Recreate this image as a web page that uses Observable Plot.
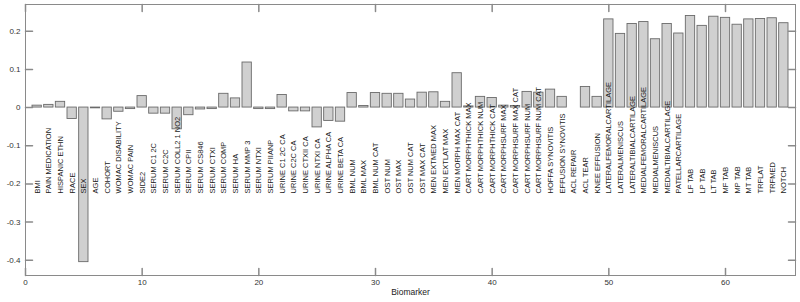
<!DOCTYPE html>
<html><head><meta charset="utf-8">
<script src="https://cdn.jsdelivr.net/npm/d3@7"></script>
<script src="https://cdn.jsdelivr.net/npm/@observablehq/plot@0.6"></script>
<style>body{margin:0;background:#fff}</style>
</head><body><div id="chart"></div>
<script>
const biomarkers = [
  "BMI","PAIN MEDICATION","HISPANIC ETHN","RACE","SEX","AGE","COHORT","WOMAC DISABILITY","WOMAC PAIN","SIDE2",
  "SERUM C1 2C","SERUM C2C","SERUM COLL2 1 NO2","SERUM CPII","SERUM CS846","SERUM CTXI","SERUM COMP","SERUM HA","SERUM MMP 3","SERUM NTXI",
  "SERUM PIIANP","URINE C1 2C CA","URINE C2C CA","URINE CTXII CA","URINE NTXI CA","URINE ALPHA CA","URINE BETA CA","BML NUM","BML MAX","BML NUM CAT",
  "OST NUM","OST MAX","OST NUM CAT","OST MAX CAT","MEN EXTMED MAX","MEN EXTLAT MAX","MEN MORPH MAX CAT","CART MORPHTHICK MAX","CART MORPHTHICK NUM","CART MORPHTHICK CAT",
  "CART MORPHSURF MAX","CART MORPHSURF MAX CAT","CART MORPHSURF NUM","CART MORPHSURF NUM CAT","HOFFA SYNOVITIS","EFFUSION SYNOVITIS","ACL REPAIR","ACL TEAR","KNEE EFFUSION","LATERALFEMORALCARTILAGE",
  "LATERALMENISCUS","LATERALTIBIALCARTILAGE","MEDIALFEMORALCARTILAGE","MEDIALMENISCUS","MEDIALTIBIALCARTILAGE","PATELLARCARTILAGE","LF TAB","LP TAB","LT TAB","MF TAB",
  "MP TAB","MT TAB","TRFLAT","TRFMED","NOTCH"
];
const values = [
  0.005, 0.007, 0.015, -0.030, -0.405, -0.002, -0.031, -0.011, -0.004, 0.030,
  -0.016, -0.016, -0.057, -0.020, -0.005, -0.004, 0.036, 0.024, 0.118, -0.004,
  -0.004, 0.033, -0.010, -0.010, -0.052, -0.035, -0.037, 0.038, 0.004, 0.038,
  0.036, 0.036, 0.021, 0.039, 0.040, 0.015, 0.090, 0.003, 0.028, 0.025,
  0.005, 0.004, 0.041, 0.039, 0.047, 0.028, 0, 0.054, 0.028, 0.231,
  0.193, 0.219, 0.224, 0.179, 0.219, 0.194, 0.240, 0.214, 0.238, 0.235,
  0.217, 0.231, 0.232, 0.234, 0.221
];
const xTicks = [0, 10, 20, 30, 40, 50, 60];
const xTickLabels = ["0", "10", "20", "30", "40", "50", "60"];
const yTicks = [-0.4, -0.3, -0.2, -0.1, 0, 0.1, 0.2];
const yTickLabels = ["-0.4", "-0.3", "-0.2", "-0.1", "0", "0.1", "0.2"];
const xLabel = "Biomarker";

const data = biomarkers.map((name, i) => ({index: i + 1, name, value: values[i]}));
const axisColor = "#8a8a8a";
const tickShape = {draw(ctx, l) { ctx.moveTo(0, 0); ctx.lineTo(0, -l); }};
const tickLen = 7;

const chart = Plot.plot({
  width: 800, height: 302,
  marginLeft: 25, marginRight: 5, marginTop: 4, marginBottom: 27,
  style: {fontFamily: "'Liberation Sans', Arial, sans-serif", fontSize: "8px", background: "#fff", color: "#222"},
  x: {domain: [0, 66]},
  y: {domain: [-0.44, 0.27]},
  marks: [
    Plot.rect(data, {x1: d => d.index - 0.4, x2: d => d.index + 0.4, y1: 0, y2: "value",
      fill: "#d0d0d0", stroke: "#6a6a6a", strokeWidth: 0.9, filter: d => d.value !== 0}),
    Plot.text(data, {x: "index", y: -0.225, text: "name", rotate: -90, textAnchor: "start",
      lineAnchor: "middle", fontSize: 7.5, fill: "#1a1a1a"}),
    Plot.frame({stroke: axisColor}),
    Plot.vector(xTicks, {x: d => d, frameAnchor: "bottom", length: tickLen, rotate: 0, anchor: "start", shape: tickShape, stroke: axisColor}),
    Plot.vector(xTicks, {x: d => d, frameAnchor: "top", length: tickLen, rotate: 180, anchor: "start", shape: tickShape, stroke: axisColor}),
    Plot.vector(yTicks, {y: d => d, frameAnchor: "left", length: tickLen, rotate: 90, anchor: "start", shape: tickShape, stroke: axisColor}),
    Plot.vector(yTicks, {y: d => d, frameAnchor: "right", length: tickLen, rotate: -90, anchor: "start", shape: tickShape, stroke: axisColor}),
    Plot.axisX(xTicks, {tickSize: 0, tickPadding: 4, tickFormat: d => xTickLabels[xTicks.indexOf(d)], label: null, fill: "#333"}),
    Plot.axisY(yTicks, {tickSize: 0, tickPadding: 5, tickFormat: d => yTickLabels[yTicks.indexOf(d)], label: null, fill: "#333"}),
    Plot.text([xLabel], {frameAnchor: "bottom", dy: 19, fontSize: 8.5, fill: "#222"})
  ]
});
document.getElementById("chart").appendChild(chart);
</script>
</body></html>
